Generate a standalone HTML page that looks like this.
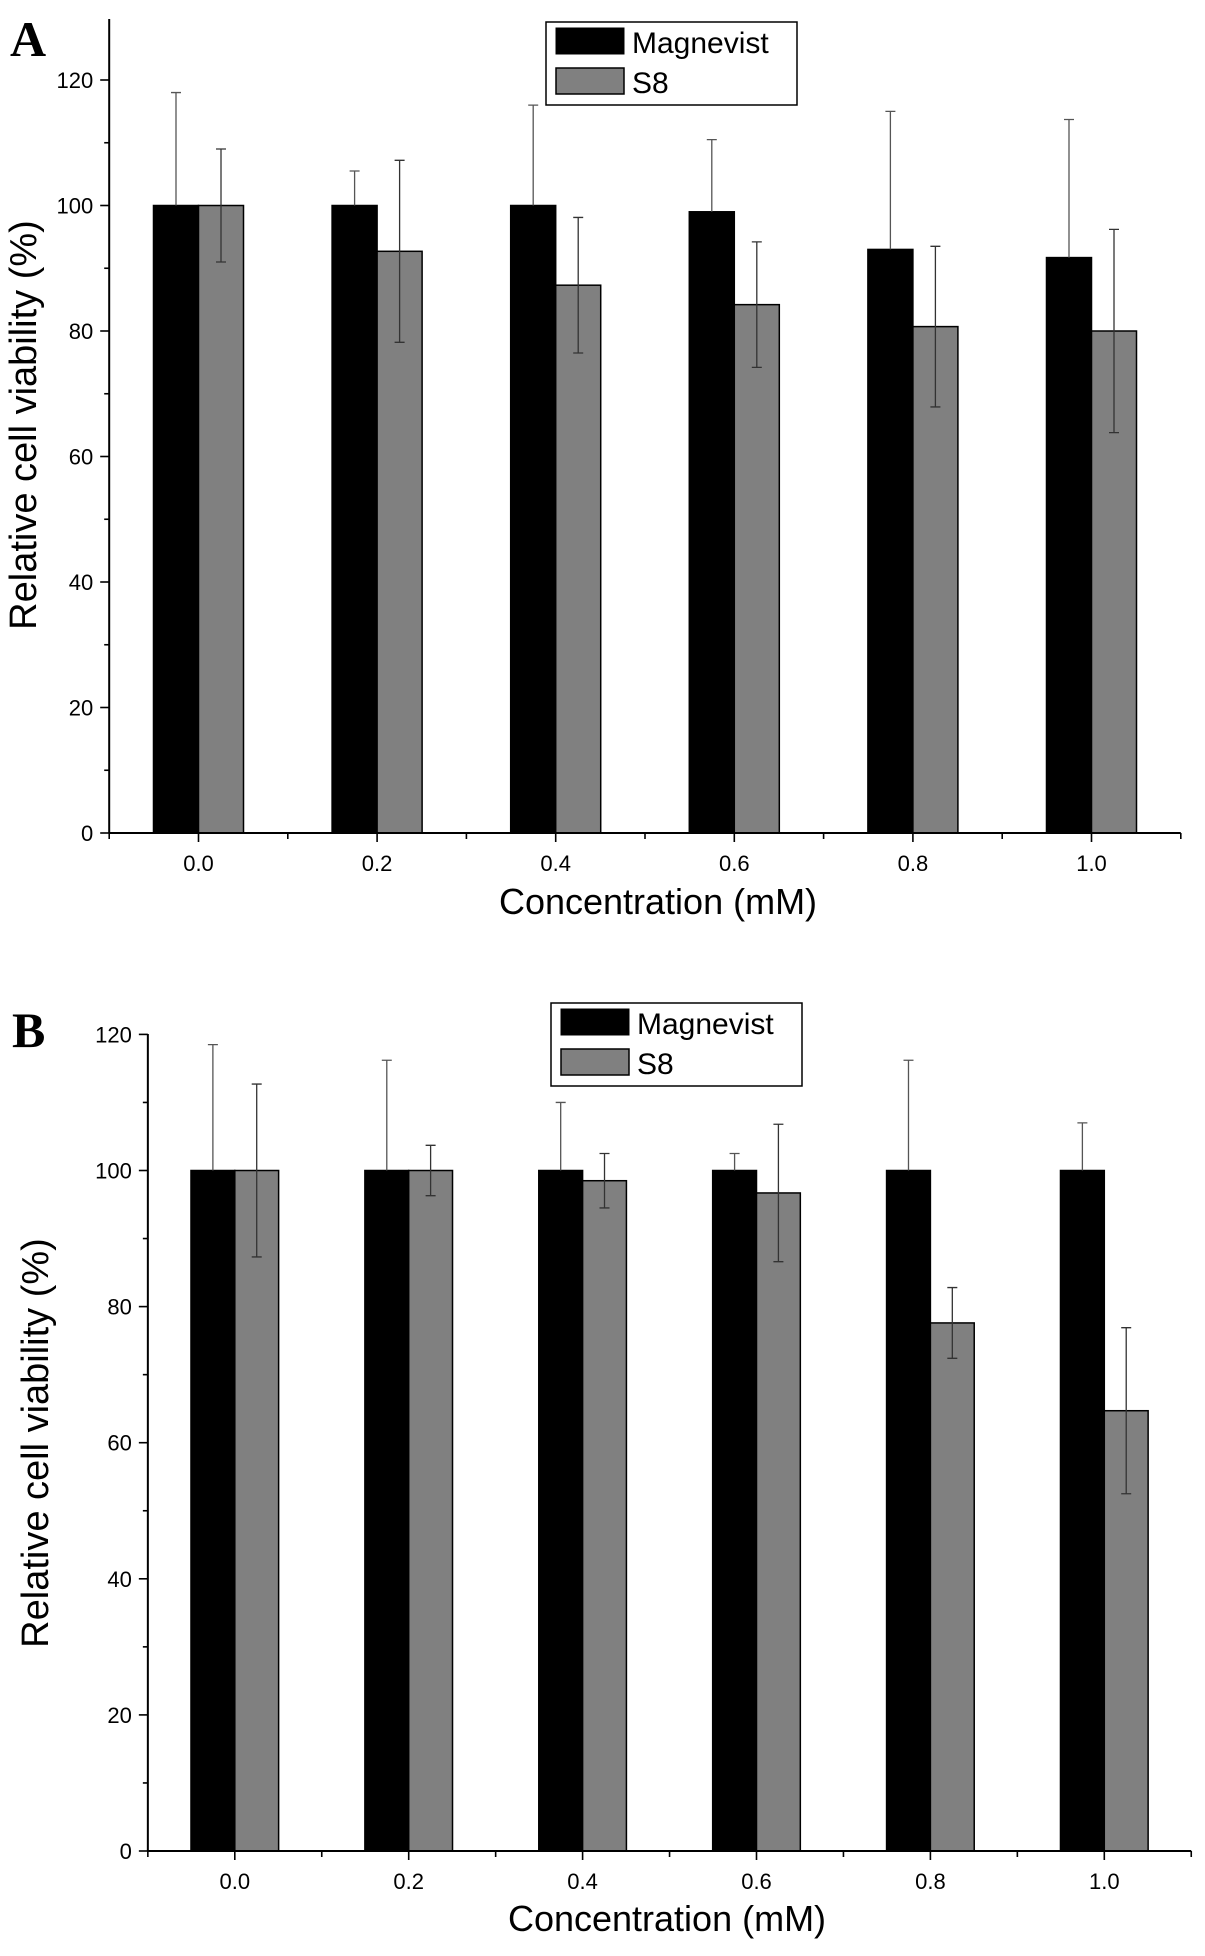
<!DOCTYPE html>
<html><head><meta charset="utf-8"><style>
html,body{margin:0;padding:0;background:#fff;}
svg{display:block;}
text{font-family:"Liberation Sans",sans-serif;fill:#000;}
</style></head><body>
<svg id="c" width="1205" height="1956" viewBox="0 0 1205 1956" xmlns="http://www.w3.org/2000/svg"></svg>
<script>
const categories = ["0.0","0.2","0.4","0.6","0.8","1.0"];
const yTicks = [0,20,40,60,80,100,120];
const aMagnevist = [100,100,100,99,93,91.7];
const aMagnevistSD = [18,5.5,16,11.5,22,22];
const aS8 = [100,92.7,87.3,84.2,80.7,80];
const aS8SD = [9,14.5,10.8,10,12.8,16.2];
const bMagnevist = [100,100,100,100,100,100];
const bMagnevistSD = [18.5,16.2,10,2.5,16.2,7];
const bS8 = [100,100,98.5,96.7,77.6,64.7];
const bS8SD = [12.7,3.7,4,10.1,5.2,12.2];

const NS="http://www.w3.org/2000/svg";
const svg=document.getElementById('c');
function mk(tag,attrs,parent){const e=document.createElementNS(NS,tag);for(const k in attrs)e.setAttribute(k,attrs[k]);(parent||svg).appendChild(e);return e;}

function panel(p){
  const g=mk('g',{});
  
  
  const y=v=>p.y0-(v/20)*p.per20;
  const x=i=>p.x0+i*p.sp;
  const left=p.x0-p.sp/2, right=p.x0+(categories.length-0.5)*p.sp;
  const bw=p.sp*0.252;
  for(let i=0;i<categories.length;i++){
    const m=mk('rect',{x:x(i)-bw,y:y(p.mag[i]),width:bw,height:p.y0-y(p.mag[i]),fill:'#000',stroke:'#000','stroke-width':1.5},g);
    
    
    const s=mk('rect',{x:x(i),y:y(p.s8[i]),width:bw,height:p.y0-y(p.s8[i]),fill:'#808080',stroke:'#000','stroke-width':1.5},g);
    
    
    const ex1=x(i)-bw/2, ex2=x(i)+bw/2;
    const e1=mk('path',{d:`M${ex1} ${y(p.mag[i])}V${y(p.mag[i]+p.magSD[i])}M${ex1-5} ${y(p.mag[i]+p.magSD[i])}h10`,stroke:'#555','stroke-width':1.3,fill:'none'},g);
    
    
    const lo=p.s8[i]-p.s8SD[i], hi=p.s8[i]+p.s8SD[i];
    const e2=mk('path',{d:`M${ex2} ${y(lo)}V${y(hi)}M${ex2-5} ${y(hi)}h10M${ex2-5} ${y(lo)}h10`,stroke:'#333','stroke-width':1.3,fill:'none'},g);
    
    
  }
  const ya=mk('line',{x1:left,y1:p.top,x2:left,y2:p.y0,stroke:'#000','stroke-width':2},g);
  
  
  const xa=mk('line',{x1:left,y1:p.y0,x2:right,y2:p.y0,stroke:'#000','stroke-width':2},g);
  
  
  for(let v=0;v<=120;v+=10){
    const major=v%20===0;
    mk('line',{x1:left-(major?9:5),y1:y(v),x2:left,y2:y(v),stroke:'#000','stroke-width':1.6},g);
  }
  yTicks.forEach(v=>{
    const t=mk('text',{x:left-16,y:y(v)+8,'text-anchor':'end','font-size':22},g);
    t.textContent=v;
    
    
  });
  for(let k=0;k<=categories.length*2;k++){
    const xx=left+k*p.sp/2;
    mk('line',{x1:xx,y1:p.y0,x2:xx,y2:p.y0+(k%2===1?9:6),stroke:'#000','stroke-width':1.6},g);
  }
  categories.forEach((c,i)=>{
    const t=mk('text',{x:x(i),y:p.y0+38,'text-anchor':'middle','font-size':22},g);
    t.textContent=c;
    
    
  });
  const xt=mk('text',{x:p.xtX,y:p.xtY,'text-anchor':'middle','font-size':36},g);
  xt.textContent='Concentration (mM)';
  
  
  const yt=mk('text',{x:0,y:0,'text-anchor':'middle','font-size':38,transform:`translate(${p.ytX},${p.ytY}) rotate(-90)`},g);
  yt.textContent='Relative cell viability (%)';
  
  
  const pl=mk('text',{x:p.lblX,y:p.lblY,'font-size':50,'font-weight':'bold',style:'font-family:"Liberation Serif",serif'},g);
  pl.textContent=p.id;
  
  
  const lg=mk('g',{},g);
  
  
  mk('rect',{x:p.lgX,y:p.lgY,width:251,height:83,fill:'#fff',stroke:'#000','stroke-width':1.5},lg);
  mk('rect',{x:p.lgX+10,y:p.lgY+6,width:68,height:26,fill:'#000',stroke:'#000'},lg);
  mk('rect',{x:p.lgX+10,y:p.lgY+46,width:68,height:26,fill:'#808080',stroke:'#000','stroke-width':1.5},lg);
  const l1=mk('text',{x:p.lgX+86,y:p.lgY+31,'font-size':30},lg);
  l1.textContent='Magnevist';
  
  
  const l2=mk('text',{x:p.lgX+86,y:p.lgY+71,'font-size':30},lg);
  l2.textContent='S8';
  
  
}

panel({id:'A',x0:198.5,sp:178.6,y0:833,per20:125.5,top:19,mag:aMagnevist,magSD:aMagnevistSD,s8:aS8,s8SD:aS8SD,
  xtX:658,xtY:914,ytX:36,ytY:425,lblX:10,lblY:56,lgX:546,lgY:22});
panel({id:'B',x0:234.8,sp:173.9,y0:1851,per20:136.1,top:1034,mag:bMagnevist,magSD:bMagnevistSD,s8:bS8,s8SD:bS8SD,
  xtX:667,xtY:1931,ytX:48,ytY:1443,lblX:12,lblY:1047,lgX:551,lgY:1003});
</script>
</body></html>
